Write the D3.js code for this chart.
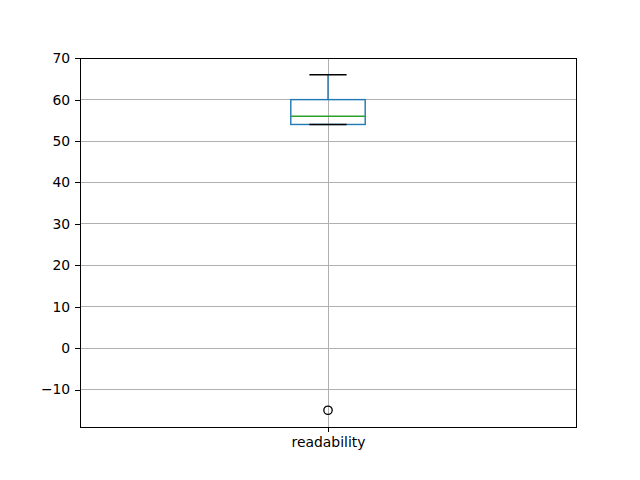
<!DOCTYPE html>
<html><head><meta charset="utf-8">
<script src="https://cdn.jsdelivr.net/npm/d3@7"></script>
<style>body{margin:0;background:#fff}svg text{font-family:"DejaVu Sans";}</style>
</head><body>
<svg id="c" width="640" height="480"></svg>
<script>
const categories = ["readability"];
const q1 = [54], median = [56], q3 = [60], whiskerLow = [54], whiskerHigh = [66];
const outliers = [[-15]];
const yTicks = [-10, 0, 10, 20, 30, 40, 50, 60, 70];

const svg = d3.select("#c");
const L = 80, R = 576, T = 58, B = 427;
const y = d3.scaleLinear().domain([-19.05, 70.05]).range([B, T]);
const x = d3.scaleLinear().domain([0.5, 1.5]).range([L, R]);
const font = "13.9px";

// grid
svg.append("g").attr("shape-rendering", "crispEdges").selectAll("line").data(yTicks).join("line")
  .attr("x1", L).attr("x2", R).attr("y1", d => y(d)).attr("y2", d => y(d))
  .attr("stroke", "#b0b0b0").attr("stroke-width", 1);
svg.append("g").attr("shape-rendering", "crispEdges").selectAll("line").data(categories).join("line")
  .attr("x1", (d,i) => x(i+1)).attr("x2", (d,i) => x(i+1)).attr("y1", T).attr("y2", B)
  .attr("stroke", "#b0b0b0").attr("stroke-width", 1);

const bw = 0.15, cw = 0.075;
categories.forEach((c, i) => {
  const cx = x(i+1);
  const g = svg.append("g");
  // whiskers
  g.append("line").attr("x1", cx).attr("x2", cx).attr("y1", y(q3[i])).attr("y2", y(whiskerHigh[i]))
    .attr("stroke", "#1f77b4").attr("stroke-width", 1.4);
  g.append("line").attr("x1", cx).attr("x2", cx).attr("y1", y(q1[i])).attr("y2", y(whiskerLow[i]))
    .attr("stroke", "#1f77b4").attr("stroke-width", 1.4);
  // box
  g.append("rect").attr("x", x(i+1-bw/2)).attr("width", x(i+1+bw/2) - x(i+1-bw/2))
    .attr("y", y(q3[i])).attr("height", y(q1[i]) - y(q3[i]))
    .attr("fill", "none").attr("stroke", "#1f77b4").attr("stroke-width", 1.4);
  // caps
  [whiskerLow[i], whiskerHigh[i]].forEach(v => {
    g.append("line").attr("x1", x(i+1-cw/2)).attr("x2", x(i+1+cw/2)).attr("y1", y(v)).attr("y2", y(v))
      .attr("stroke", "#000").attr("stroke-width", 1.4);
  });
  // median
  g.append("line").attr("x1", x(i+1-bw/2)).attr("x2", x(i+1+bw/2)).attr("y1", y(median[i])).attr("y2", y(median[i]))
    .attr("stroke", "#2ca02c").attr("stroke-width", 1.4);
  // fliers
  g.selectAll("circle").data(outliers[i]).join("circle")
    .attr("cx", cx).attr("cy", d => y(d)).attr("r", 4.2)
    .attr("fill", "none").attr("stroke", "#000").attr("stroke-width", 1.3);
});

// frame
svg.append("rect").attr("x", L).attr("y", T).attr("width", R-L).attr("height", B-T)
  .attr("shape-rendering", "crispEdges")
  .attr("fill", "none").attr("stroke", "#000").attr("stroke-width", 1);

// y axis
const ya = svg.append("g").attr("transform", `translate(${L},0)`)
  .call(d3.axisLeft(y).tickValues(yTicks).tickSize(4.9).tickPadding(4.9).tickFormat(d => d < 0 ? "\u2212" + Math.abs(d) : d));
ya.select(".domain").remove();
ya.selectAll("line").attr("stroke", "#000").attr("stroke-width", 1).attr("shape-rendering", "crispEdges");
ya.selectAll("text").attr("font-size", font).attr("font-family", "DejaVu Sans").attr("fill", "#000");

// x axis
const xa = svg.append("g").attr("transform", `translate(0,${B})`)
  .call(d3.axisBottom(x).tickValues(categories.map((c,i)=>i+1)).tickSize(4.9).tickPadding(4.9).tickFormat((d) => categories[d-1]));
xa.select(".domain").remove();
xa.selectAll("line").attr("stroke", "#000").attr("stroke-width", 1).attr("shape-rendering", "crispEdges");
xa.selectAll("text").attr("font-size", font).attr("font-family", "DejaVu Sans").attr("fill", "#000");
</script>
</body></html>
